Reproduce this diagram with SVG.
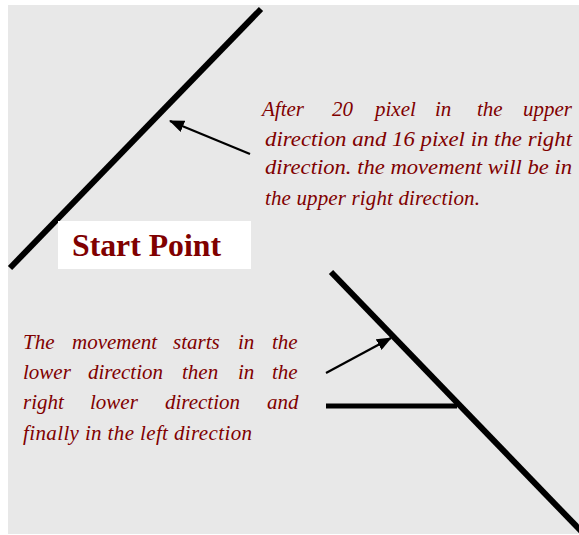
<svg xmlns="http://www.w3.org/2000/svg" width="579" height="535" viewBox="0 0 579 535">
  <style>
    .note { font-family: "Liberation Serif", "Times New Roman", serif; font-style: italic; font-size: 21px; fill: #800000; }
    .title { font-family: "Liberation Serif", "Times New Roman", serif; font-weight: bold; font-size: 31px; fill: #800000; }
    .thick { stroke: #000; stroke-width: 6; fill: none; }
    .thin { stroke: #000; stroke-width: 2.2; fill: none; }
  </style>
  <defs>
    <marker id="arrow" markerUnits="userSpaceOnUse" markerWidth="16" markerHeight="12" refX="14" refY="6" orient="auto">
      <path d="M0,0 L15,6 L0,12 z" fill="#000"/>
    </marker>
  </defs>
  <rect x="0" y="0" width="579" height="535" fill="#ffffff"/>
  <rect x="8" y="5" width="571" height="529" fill="#e8e8e8"/>

  <g id="upper-line">
    <line class="thick" x1="10" y1="268" x2="261" y2="9"/>
  </g>

  <g id="start-point">
    <rect x="58" y="221" width="193" height="48" fill="#ffffff"/>
    <text class="title" x="72" y="256" textLength="149" lengthAdjust="spacingAndGlyphs">Start Point</text>
  </g>

  <g id="upper-note">
    <text class="note" y="116"><tspan x="262">After</tspan><tspan x="332">20</tspan><tspan x="375">pixel</tspan><tspan x="435">in</tspan><tspan x="477">the</tspan><tspan x="523">upper</tspan></text>
    <text class="note" x="265" y="146" textLength="307" lengthAdjust="spacingAndGlyphs">direction and 16 pixel in the right</text>
    <text class="note" x="265" y="174" textLength="307" lengthAdjust="spacingAndGlyphs">direction. the movement will be in</text>
    <text class="note" x="265" y="205" textLength="215" lengthAdjust="spacing">the upper right direction.</text>
  </g>

  <g id="lower-shape">
    <line class="thick" x1="331" y1="272" x2="581" y2="531"/>
    <line x1="326" y1="406" x2="457" y2="406" stroke="#000" stroke-width="5"/>
  </g>

  <g id="lower-note">
    <text class="note" y="349"><tspan x="23">The</tspan><tspan x="72">movement</tspan><tspan x="173">starts</tspan><tspan x="238">in</tspan><tspan x="272">the</tspan></text>
    <text class="note" y="379"><tspan x="23">lower</tspan><tspan x="88">direction</tspan><tspan x="182">then</tspan><tspan x="238">in</tspan><tspan x="272">the</tspan></text>
    <text class="note" y="409"><tspan x="23">right</tspan><tspan x="90">lower</tspan><tspan x="165">direction</tspan><tspan x="267">and</tspan></text>
    <text class="note" x="23" y="440" textLength="229" lengthAdjust="spacing">finally in the left direction</text>
  </g>

  <g id="connectors">
    <line class="thin" x1="250" y1="154" x2="170" y2="121" marker-end="url(#arrow)"/>
    <line class="thin" x1="326" y1="373" x2="391" y2="338" marker-end="url(#arrow)"/>
  </g>
</svg>
